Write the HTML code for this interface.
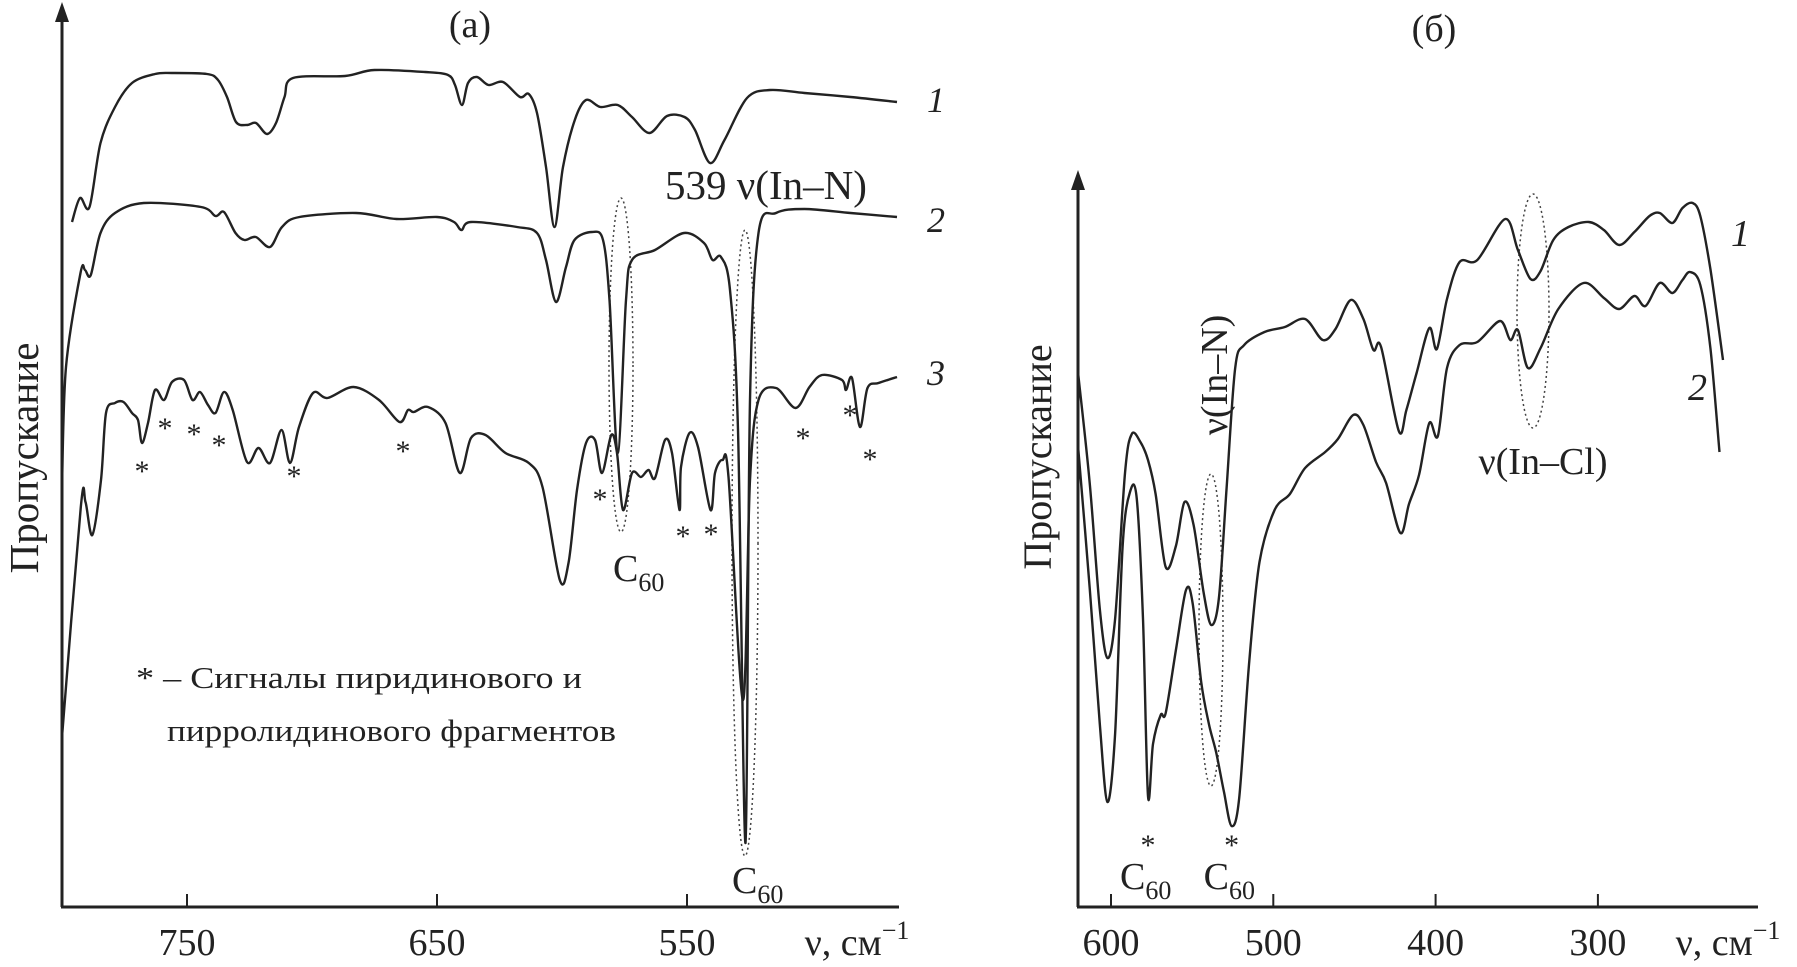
<!DOCTYPE html>
<html><head><meta charset="utf-8"><style>
html,body{margin:0;padding:0;background:#fff}
svg{display:block}
text{font-family:"Liberation Serif",serif;fill:#222}
</style></head><body>
<svg id="fig" width="1797" height="967" viewBox="0 0 1797 967">
<g id="panelA"></g>
<g id="panelB"></g>
</svg>
<script>
// ---- Panel (a) data: wavenumber (cm-1) and transmittance (a.u.) ----
const aTicks = [750, 650, 550];
const aNu1 = [796,792.8,789,784.6,778.8,772,762.8,756,742,737.6,734,730.4,726,722.4,718,714.4,711,707.6,686.8,675,654.8,645.6,642.8,640,637.6,634,629.4,623.6,616.8,613.3,610,606.4,603,599.6,594.9,590.4,584.6,577.7,572,565,558,551,546.8,540.8,535,526,516.8,503,484.6,466];
const aT1 = [685,709,700,764,800,824,833,834,833,827,810,785,782,784,773,784,810,829,831,837,835,832,822,802,824,830,822,825,810,813,794,740,680,740,787,807,800,802,790,774,791,790,777,744,767,809,817,814,810,805];
const aNu2 = [800,798.4,792.6,790.8,788.5,784.6,778.8,767.3,744.4,738.6,735.2,730.6,727,722.5,716.8,712,705,682.4,666.2,650,643.2,640.2,636.4,618,610,606.4,602.4,598.4,595,588,583.6,581,577.7,574.4,572,562.8,551.2,543.2,539.8,536.4,532.8,529.6,526.6,524.8,521.4,514.4,503,484.6,466];
const aT2 = [420,540,634,637,632,674,694,704,700,691,695,674,667,670,660,680,690,694,688,690,685,677,685,680,674,647,605,640,667,675,667,607,454,607,647,657,674,664,647,650,617,477,64,507,674,694,698,694,690];
const aNu3 = [800,792.5,790.6,787.9,784.4,782.4,778.8,775.4,772,769.6,768,765.6,762.8,759.2,756,751.2,747.8,744.8,741.6,738.6,735.2,731.7,726,721.4,716.8,712.2,708.8,705.2,699.6,693.8,683.4,673.2,665,661.6,659.3,653.6,646.6,640.9,636.4,630.6,622.6,613.3,607.8,600.9,597.4,594,590.4,586.8,584,580.3,578,575.6,572,568.4,565.4,562.8,558.8,556,553,552.4,549,545.6,540.6,538.8,535.8,533.4,527.6,524.8,521.4,514.4,506.6,501,496,488,486.4,484,480.8,477.8,473.4,466];
const aT3 = [170,400,405,372,427,494,504,505,494,487,464,484,517,507,525,527,507,515,502,494,515,497,445,459,444,477,444,480,514,509,520,507,485,497,495,500,484,434,469,472,454,444,420,327,344,417,464,467,434,472,454,397,434,430,437,429,467,454,397,440,474,460,397,434,447,430,207,427,507,519,499,520,532,527,517,529,480,519,524,530];
const aStarNu = [768,758.8,747.2,737.2,707.2,663.6,584.8,551.6,540.4,503.6,484.8,476.8];
const aStarT = [440,483,477,466,435,460,412,375,377,473,496,452];

// ---- Panel (б) data ----
const bTicks = [600, 500, 400, 300];
const bNu1 = [620.3,613.1,606.9,602.2,597.5,591.3,587.2,581.9,577.2,572.5,566.3,560,554.7,549.1,542.9,538.2,533.5,528.8,523.5,517.9,505.4,492.9,480.4,469.5,461.7,452.3,444.5,438.3,433.6,422.7,418,411.7,403.9,399.2,393,385.2,374.3,357.1,349.3,341.5,335.3,327.5,318.1,305.6,296.3,286.9,277.5,268.2,261.9,254.1,247.9,241.6,236.9,230.7,222.9];
const bT1 = [534,424,298,249,288,435,473,465,447,413,340,361,405,382,314,282,309,419,539,562,575,580,588,567,578,607,588,557,560,476,497,534,579,558,608,645,647,688,657,628,636,667,680,685,677,662,675,691,694,684,699,704,691,638,547];
const bNu2 = [620.3,613.1,606.9,602.2,597.5,592.8,588.1,584.1,580.3,577.2,574.1,569.4,566.3,560,553.8,549.7,544.4,539.7,535.1,530.4,525.7,521,514.8,508.5,499.2,489.8,480.4,468,460.2,450.8,444.5,436.7,430.5,421.7,416.4,410.2,403.9,398.6,393,385.2,374.3,360.3,354,349.3,343.1,335.3,324.4,308.8,296.3,286.9,277.5,270.7,261.9,254.1,247.9,243.2,236.9,230.7,225.1];
const bT2 = [460,319,183,105,173,362,416,408,288,111,163,192,194,257,317,304,225,183,154,115,81,109,246,345,397,413,439,455,468,492,482,445,424,374,403,432,484,471,539,562,565,586,567,577,539,559,598,624,609,598,611,601,624,614,627,635,622,559,455];

// ---- scales ----
const xA = nu => 187 + (750 - nu) * 2.5;
const xB = nu => 1111 + (600 - nu) * 1.623;
const yT = t => 907 - t;

const NS = "http://www.w3.org/2000/svg";
function mk(tag, attrs, parent){const e=document.createElementNS(NS,tag);for(const k in attrs)e.setAttribute(k,attrs[k]);parent.appendChild(e);return e;}
function txt(parent, x, y, s, size, extra){const t=mk('text',Object.assign({x:x,y:y,'font-size':size},extra||{}),parent);t.innerHTML=s;return t;}
function pathOf(nus, ts, xf){
  const p = nus.map((n,i)=>[xf(n), yT(ts[i])]);
  let d = 'M'+p[0][0].toFixed(1)+','+p[0][1].toFixed(1);
  const k = 0.16;
  for(let i=0;i<p.length-1;i++){
    const p0=p[Math.max(0,i-1)], p1=p[i], p2=p[i+1], p3=p[Math.min(p.length-1,i+2)];
    const c1=[p1[0]+(p2[0]-p0[0])*k, p1[1]+(p2[1]-p0[1])*k];
    const c2=[p2[0]-(p3[0]-p1[0])*k, p2[1]-(p3[1]-p1[1])*k];
    d += ' C'+c1[0].toFixed(1)+','+c1[1].toFixed(1)+' '+c2[0].toFixed(1)+','+c2[1].toFixed(1)+' '+p2[0].toFixed(1)+','+p2[1].toFixed(1);
  }
  return d;
}

const A = document.getElementById('panelA');
const B = document.getElementById('panelB');
let e;

// Panel A axes
e = mk('line',{x1:62,y1:907,x2:62,y2:20,stroke:'#222','stroke-width':3},A);


e = mk('polygon',{points:'62,2 55,22 69,22',fill:'#222'},A);


e = mk('line',{x1:61,y1:907,x2:899,y2:907,stroke:'#222','stroke-width':3},A);


aTicks.forEach(v=>{
  const t = mk('line',{x1:xA(v),y1:907,x2:xA(v),y2:894,stroke:'#222','stroke-width':2},A);
  
  
  const l = txt(A, xA(v), 955, v, 38, {'text-anchor':'middle'});
  
  
});
e = txt(A, 857, 955, 'ν, см<tspan font-size="26" dy="-16">−1</tspan>', 38, {'text-anchor':'middle'});


e = txt(A, 0, 0, 'Пропускание', 41, {'text-anchor':'middle',transform:'translate(38,458) rotate(-90)'});


e = txt(A, 470, 37, '(a)', 38, {'text-anchor':'middle'});



e = mk('ellipse',{cx:621,cy:365,rx:12,ry:167,fill:'none',stroke:'#444','stroke-width':1.5,'stroke-dasharray':'2,3'},A);


e = mk('ellipse',{cx:745,cy:543,rx:13,ry:313,fill:'none',stroke:'#444','stroke-width':1.5,'stroke-dasharray':'2,3'},A);



[[aNu1,aT1,'spectrum-a-1'],[aNu2,aT2,'spectrum-a-2'],[aNu3,aT3,'spectrum-a-3']].forEach(c=>{
  const p = mk('path',{d:pathOf(c[0],c[1],xA),fill:'none',stroke:'#222','stroke-width':2.4,'stroke-linejoin':'round'},A);
  
  
});
aStarNu.forEach((n,i)=>{
  const s = txt(A, xA(n), yT(aStarT[i])+14, '*', 30, {'text-anchor':'middle'});
  
  
});
[['1',927,112],['2',927,232],['3',927,385]].forEach(l=>{
  const t = txt(A, l[1], l[2], l[0], 36, {'font-style':'italic'});
  
  
});
e = txt(A, 665, 199, '539 ν(In–N)', 41);


e = txt(A, 613, 581, 'C<tspan font-size="26" dy="10">60</tspan>', 38);


e = txt(A, 732, 893, 'C<tspan font-size="26" dy="10">60</tspan>', 38);


e = txt(A, 136, 688, '* – Сигналы пиридинового и', 31, {textLength:446,lengthAdjust:'spacingAndGlyphs'});


e = txt(A, 167, 741, 'пирролидинового фрагментов', 31, {textLength:449,lengthAdjust:'spacingAndGlyphs'});



// Panel B axes
e = mk('line',{x1:1078,y1:907,x2:1078,y2:188,stroke:'#222','stroke-width':3},B);


e = mk('polygon',{points:'1078,170 1071,190 1085,190',fill:'#222'},B);


e = mk('line',{x1:1077,y1:907,x2:1758,y2:907,stroke:'#222','stroke-width':3},B);


bTicks.forEach(v=>{
  const t = mk('line',{x1:xB(v),y1:907,x2:xB(v),y2:894,stroke:'#222','stroke-width':2},B);
  
  
  const l = txt(B, xB(v), 955, v, 38, {'text-anchor':'middle'});
  
  
});
e = txt(B, 1728, 955, 'ν, см<tspan font-size="26" dy="-16">−1</tspan>', 38, {'text-anchor':'middle'});


e = txt(B, 0, 0, 'Пропускание', 40, {'text-anchor':'middle',transform:'translate(1051,457) rotate(-90)'});


e = txt(B, 1434, 41, '(б)', 38, {'text-anchor':'middle'});



e = mk('ellipse',{cx:1211,cy:630,rx:12,ry:156,fill:'none',stroke:'#444','stroke-width':1.5,'stroke-dasharray':'2,3'},B);


e = mk('ellipse',{cx:1533,cy:311,rx:16,ry:117,fill:'none',stroke:'#444','stroke-width':1.5,'stroke-dasharray':'2,3'},B);



[[bNu1,bT1,'spectrum-b-1'],[bNu2,bT2,'spectrum-b-2']].forEach(c=>{
  const p = mk('path',{d:pathOf(c[0],c[1],xB),fill:'none',stroke:'#222','stroke-width':2.4,'stroke-linejoin':'round'},B);
  
  
});
e = txt(B, 1731, 246, '1', 38, {'font-style':'italic'});


e = txt(B, 1688, 400, '2', 38, {'font-style':'italic'});


e = txt(B, 0, 0, 'ν(In–N)', 38, {'text-anchor':'middle',transform:'translate(1227,375) rotate(-90)'});


e = txt(B, 1543, 474, 'ν(In–Cl)', 38, {'text-anchor':'middle'});


[[577.2,'c60-label-b-1'],[525.7,'c60-label-b-2']].forEach(c=>{
  const s = txt(B, xB(c[0]), 855, '*', 30, {'text-anchor':'middle'});
  
  
  const l = txt(B, xB(c[0])-28, 889, 'C<tspan font-size="26" dy="10">60</tspan>', 38);
  
  
});
</script>
</body></html>
